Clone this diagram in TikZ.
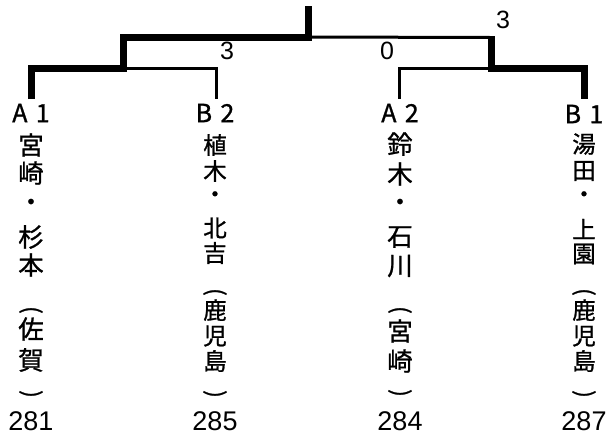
\documentclass[tikz,border=0pt]{standalone}
\usepackage{fontspec}
\newfontfamily\cjk[FakeBold=1]{Noto Sans CJK JP}
\newfontfamily\numf{Liberation Sans}
\begin{document}
\begin{tikzpicture}[x=1pt,y=-1pt,
  thickline/.style={line width=7pt, line join=miter, line cap=butt},
  thinline/.style={line width=3pt, line join=miter, line cap=butt},
  ch/.style={inner sep=0pt, font=\cjk\fontsize{25.5}{25.5}\selectfont},
  chb/.style={inner sep=0pt, font=\cjk\fontsize{23.5}{23.5}\selectfont},
  par/.style={inner sep=0pt, rotate=-90, font=\cjk\fontsize{23}{23}\selectfont},
  seed/.style={inner sep=0pt, font=\cjk\fontsize{25}{25}\selectfont},
  pts/.style={inner sep=0pt, font=\numf\fontsize{27}{27}\selectfont},
  score/.style={inner sep=0pt, font=\numf\fontsize{25}{25}\selectfont}]
\useasboundingbox (0,0) rectangle (615,437);
% coordinates of bracket
\coordinate (top) at (308,6);
\coordinate (fjoinL) at (308,37);
\coordinate (fjoinR) at (491,37.5);
\coordinate (sL) at (123.5,37);
\coordinate (sLm) at (123.5,68.5);
\coordinate (sR) at (491,36);
\coordinate (sRm) at (491,68);
\coordinate (a1) at (31.5,99);
\coordinate (b2) at (216,99);
\coordinate (a2) at (399,99);
\coordinate (b1) at (584,99);
% thin lines
\draw[thinline] (sLm) -| (b2);
\draw[thinline] (sRm) -| (a2);
\draw[thinline] (fjoinL) -- (fjoinR);
% thick (winner) lines
\draw[thickline] (a1) |- (sLm) -- (sL) -- (fjoinL) -- (top);
\draw[thickline] (sR) -- (sRm) -| (b1);
% scores
\node[score] (s1) at (227,51) {3};
\node[score] (s2) at (387,51) {0};
\node[score] (s3) at (503,20) {3};
% column A1
\node[seed] (A1) at (31,113) {A\,\,1};
\node[ch] (a1c1) at (31,145) {宮};
\node[ch] (a1c2) at (31,173) {崎};
\node[ch] (a1c3) at (31,205) {・};
\node[ch] (a1c4) at (31,237) {杉};
\node[ch] (a1c5) at (31,265) {本};
\node[par] (a1c6) at (31,310) {(};
\node[ch] (a1c7) at (31,329) {佐};
\node[ch] (a1c8) at (31,360) {賀};
\node[par] (a1c9) at (31,394) {)};
\node[pts] (a1p) at (31,421) {281};
% column B2
\node[seed] (B2) at (215,113) {B\,\,2};
\node[chb] (b2c1) at (215,145) {植};
\node[chb] (b2c2) at (215,171) {木};
\node[chb] (b2c3) at (215,197) {・};
\node[chb] (b2c4) at (215,228) {北};
\node[chb] (b2c5) at (215,253) {吉};
\node[par] (b2c6) at (215,292) {(};
\node[chb] (b2c7) at (215,310) {鹿};
\node[chb] (b2c8) at (215,336) {児};
\node[chb] (b2c9) at (215,361) {島};
\node[par] (b2c10) at (215,394) {)};
\node[pts] (b2p) at (215,421) {285};
% column A2
\node[seed] (A2) at (400,113) {A\,\,2};
\node[ch] (a2c1) at (400,144) {鈴};
\node[ch] (a2c2) at (400,174) {木};
\node[ch] (a2c3) at (400,205) {・};
\node[ch] (a2c4) at (400,237) {石};
\node[ch] (a2c5) at (400,266) {川};
\node[par] (a2c6) at (400,310) {(};
\node[ch] (a2c7) at (400,331) {宮};
\node[ch] (a2c8) at (400,361) {崎};
\node[par] (a2c9) at (400,393) {)};
\node[pts] (a2p) at (400,421) {284};
% column B1
\node[seed] (B1) at (584,114) {B\,\,1};
\node[chb] (b1c1) at (584,144) {湯};
\node[chb] (b1c2) at (584,171) {田};
\node[chb] (b1c3) at (584,197) {・};
\node[chb] (b1c4) at (584,229) {上};
\node[chb] (b1c5) at (584,254) {園};
\node[par] (b1c6) at (584,292) {(};
\node[chb] (b1c7) at (584,310) {鹿};
\node[chb] (b1c8) at (584,336) {児};
\node[chb] (b1c9) at (584,361) {島};
\node[par] (b1c10) at (584,394) {)};
\node[pts] (b1p) at (584,421) {287};
\end{tikzpicture}
\end{document}
